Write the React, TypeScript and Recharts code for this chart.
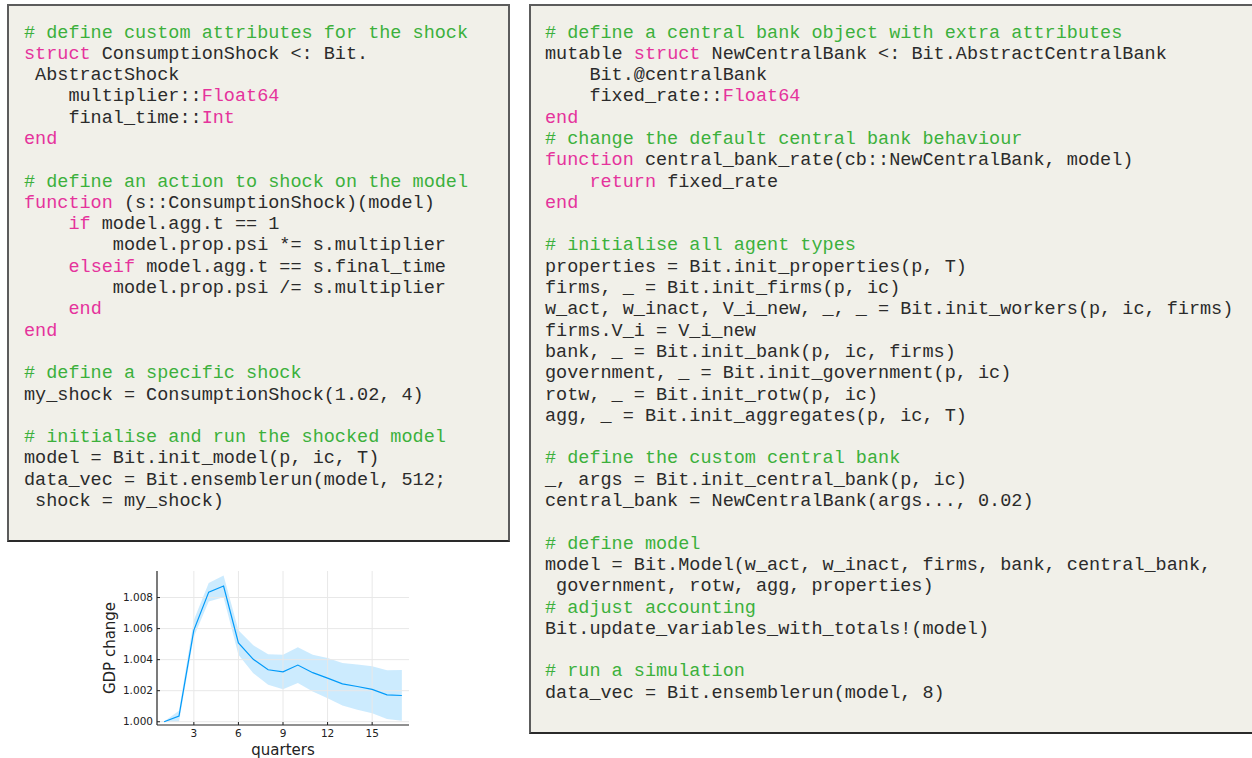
import React from 'react';
import { ComposedChart, Area, Line, XAxis, YAxis, ReferenceLine } from 'recharts';

// ---- chart data ----
const quarters = [1, 2, 3, 4, 5, 6, 7, 8, 9, 10, 11, 12, 13, 14, 15, 16, 17];
const gdpMean = [1.0, 1.00037, 1.0059, 1.00835, 1.00874, 1.00508, 1.00402, 1.00335, 1.00321, 1.00365, 1.00316, 1.00281, 1.00244, 1.00227, 1.00208, 1.00173, 1.00169];
const gdpHigh = [1.00002, 1.00071, 1.00655, 1.00893, 1.00942, 1.0059, 1.00493, 1.00434, 1.00432, 1.0048, 1.00432, 1.00411, 1.00378, 1.00368, 1.00357, 1.00331, 1.00333];
const gdpLow = [0.99998, 1.0, 1.00547, 1.00774, 1.00802, 1.00432, 1.00313, 1.00238, 1.0021, 1.00249, 1.00195, 1.00151, 1.00104, 1.00078, 1.00054, 1.00018, 1.00006];
const xTicks = [3, 6, 9, 12, 15];
const yTicks = [1.0, 1.002, 1.004, 1.006, 1.008];
const xLabel = 'quarters';
const yLabel = 'GDP change';

const chartData = quarters.map((q, i) => ({
  q,
  mean: gdpMean[i],
  band: [gdpLow[i], gdpHigh[i]],
}));

// ---- code panels ----
type Tok = [string, 'c' | 'k' | 'n'];
const leftCode: Tok[][] = [
  [['# define custom attributes for the shock', 'c']],
  [['struct', 'k'], [' ConsumptionShock <: Bit.', 'n']],
  [[' AbstractShock', 'n']],
  [['    multiplier::', 'n'], ['Float64', 'k']],
  [['    final_time::', 'n'], ['Int', 'k']],
  [['end', 'k']],
  [],
  [['# define an action to shock on the model', 'c']],
  [['function', 'k'], [' (s::ConsumptionShock)(model)', 'n']],
  [['    ', 'n'], ['if', 'k'], [' model.agg.t == 1', 'n']],
  [['        model.prop.psi *= s.multiplier', 'n']],
  [['    ', 'n'], ['elseif', 'k'], [' model.agg.t == s.final_time', 'n']],
  [['        model.prop.psi /= s.multiplier', 'n']],
  [['    ', 'n'], ['end', 'k']],
  [['end', 'k']],
  [],
  [['# define a specific shock', 'c']],
  [['my_shock = ConsumptionShock(1.02, 4)', 'n']],
  [],
  [['# initialise and run the shocked model', 'c']],
  [['model = Bit.init_model(p, ic, T)', 'n']],
  [['data_vec = Bit.ensemblerun(model, 512;', 'n']],
  [[' shock = my_shock)', 'n']],
];

const rightCode: Tok[][] = [
  [['# define a central bank object with extra attributes', 'c']],
  [['mutable ', 'n'], ['struct', 'k'], [' NewCentralBank <: Bit.AbstractCentralBank', 'n']],
  [['    Bit.@centralBank', 'n']],
  [['    fixed_rate::', 'n'], ['Float64', 'k']],
  [['end', 'k']],
  [['# change the default central bank behaviour', 'c']],
  [['function', 'k'], [' central_bank_rate(cb::NewCentralBank, model)', 'n']],
  [['    ', 'n'], ['return', 'k'], [' fixed_rate', 'n']],
  [['end', 'k']],
  [],
  [['# initialise all agent types', 'c']],
  [['properties = Bit.init_properties(p, T)', 'n']],
  [['firms, _ = Bit.init_firms(p, ic)', 'n']],
  [['w_act, w_inact, V_i_new, _, _ = Bit.init_workers(p, ic, firms)', 'n']],
  [['firms.V_i = V_i_new', 'n']],
  [['bank, _ = Bit.init_bank(p, ic, firms)', 'n']],
  [['government, _ = Bit.init_government(p, ic)', 'n']],
  [['rotw, _ = Bit.init_rotw(p, ic)', 'n']],
  [['agg, _ = Bit.init_aggregates(p, ic, T)', 'n']],
  [],
  [['# define the custom central bank', 'c']],
  [['_, args = Bit.init_central_bank(p, ic)', 'n']],
  [['central_bank = NewCentralBank(args..., 0.02)', 'n']],
  [],
  [['# define model', 'c']],
  [['model = Bit.Model(w_act, w_inact, firms, bank, central_bank,', 'n']],
  [[' government, rotw, agg, properties)', 'n']],
  [['# adjust accounting', 'c']],
  [['Bit.update_variables_with_totals!(model)', 'n']],
  [],
  [['# run a simulation', 'c']],
  [['data_vec = Bit.ensemblerun(model, 8)', 'n']],
];

const tokColor = { c: '#3cb03c', k: '#e5339c', n: '#2b2b2b' };

const CodeBlock = ({ lines, left, top }: { lines: Tok[][]; left: number; top: number }) => (
  <div
    style={{
      position: 'absolute',
      left,
      top,
      fontFamily: '"Liberation Mono", monospace',
      fontSize: 18.5,
      lineHeight: '21.3px',
      whiteSpace: 'pre',
    }}
  >
    {lines.map((ln, i) => (
      <div key={i} style={{ height: 21.3 }}>
        {ln.map((t, j) => (
          <span key={j} style={{ color: tokColor[t[1]] }}>
            {t[0]}
          </span>
        ))}
      </div>
    ))}
  </div>
);

const YLab = (props: any) => {
  const vb = props.viewBox || { x: 17, y: 11, width: 50, height: 154 };
  const x = vb.x + 8;
  const y = vb.y + vb.height / 2;
  return (
    <text x={x} y={y} transform={`rotate(-90 ${x} ${y})`} textAnchor="middle" fontSize={15} fill="#222" fontFamily="DejaVu Sans">
      {yLabel}
    </text>
  );
};

const XLab = (props: any) => {
  const vb = props.viewBox || { x: 67, y: 165, width: 252, height: 30 };
  return (
    <text x={vb.x + vb.width / 2} y={vb.y + vb.height} textAnchor="middle" fontSize={15} fill="#222" fontFamily="DejaVu Sans">
      {xLabel}
    </text>
  );
};

const panelBase: React.CSSProperties = {
  position: 'absolute',
  boxSizing: 'border-box',
  background: '#f1f0e9',
  borderStyle: 'solid',
  borderColor: '#5c5c5c',
  borderWidth: 2,
  borderBottomColor: '#2a2a2a',
};

export default function App() {
  return (
    <div style={{ position: 'absolute', left: 0, top: 0, width: 1252, height: 758, background: '#fff', overflow: 'hidden' }}>
      <div style={{ ...panelBase, left: 7, top: 4, width: 503, height: 538 }} />
      <div style={{ ...panelBase, left: 529, top: 4, width: 740, height: 730, borderRightWidth: 0 }} />
      <CodeBlock lines={leftCode} left={24} top={22.5} />
      <CodeBlock lines={rightCode} left={545} top={22.5} />
      <div style={{ position: 'absolute', left: 90, top: 560 }}>
        <ComposedChart width={330} height={198} data={chartData} margin={{ top: 11, right: 11, bottom: 3, left: 17 }}>
          <XAxis
            dataKey="q"
            type="number"
            domain={[0.52, 17.48]}
            ticks={xTicks}
            allowDataOverflow
            height={30}
            tickSize={-3}
            tickMargin={8}
            axisLine={{ stroke: '#222', strokeWidth: 1.2 }}
            tickLine={{ stroke: '#222' }}
            tick={{ fontSize: 10.5, fill: '#222', fontFamily: 'DejaVu Sans' }}
            label={{ content: <XLab /> }}
          />
          <YAxis
            type="number"
            domain={[0.99979, 1.00971]}
            ticks={yTicks}
            allowDataOverflow
            width={50}
            tickSize={-3}
            tickMargin={7}
            tickFormatter={(v: number) => v.toFixed(3)}
            axisLine={{ stroke: '#222', strokeWidth: 1.2 }}
            tickLine={{ stroke: '#222' }}
            tick={{ fontSize: 10.5, fill: '#222', fontFamily: 'DejaVu Sans' }}
            label={{ content: <YLab /> }}
          />
          {yTicks.map((t) => (
            <ReferenceLine key={'gy' + t} y={t} stroke="#e8e8e8" strokeWidth={1} />
          ))}
          {xTicks.map((t) => (
            <ReferenceLine key={'gx' + t} x={t} stroke="#e8e8e8" strokeWidth={1} />
          ))}
          <Area dataKey="band" type="linear" stroke="none" fill="#009af9" fillOpacity={0.2} isAnimationActive={false} />
          <Line dataKey="mean" type="linear" stroke="#009af9" strokeWidth={1.2} dot={false} isAnimationActive={false} />
        </ComposedChart>
      </div>
    </div>
  );
}
